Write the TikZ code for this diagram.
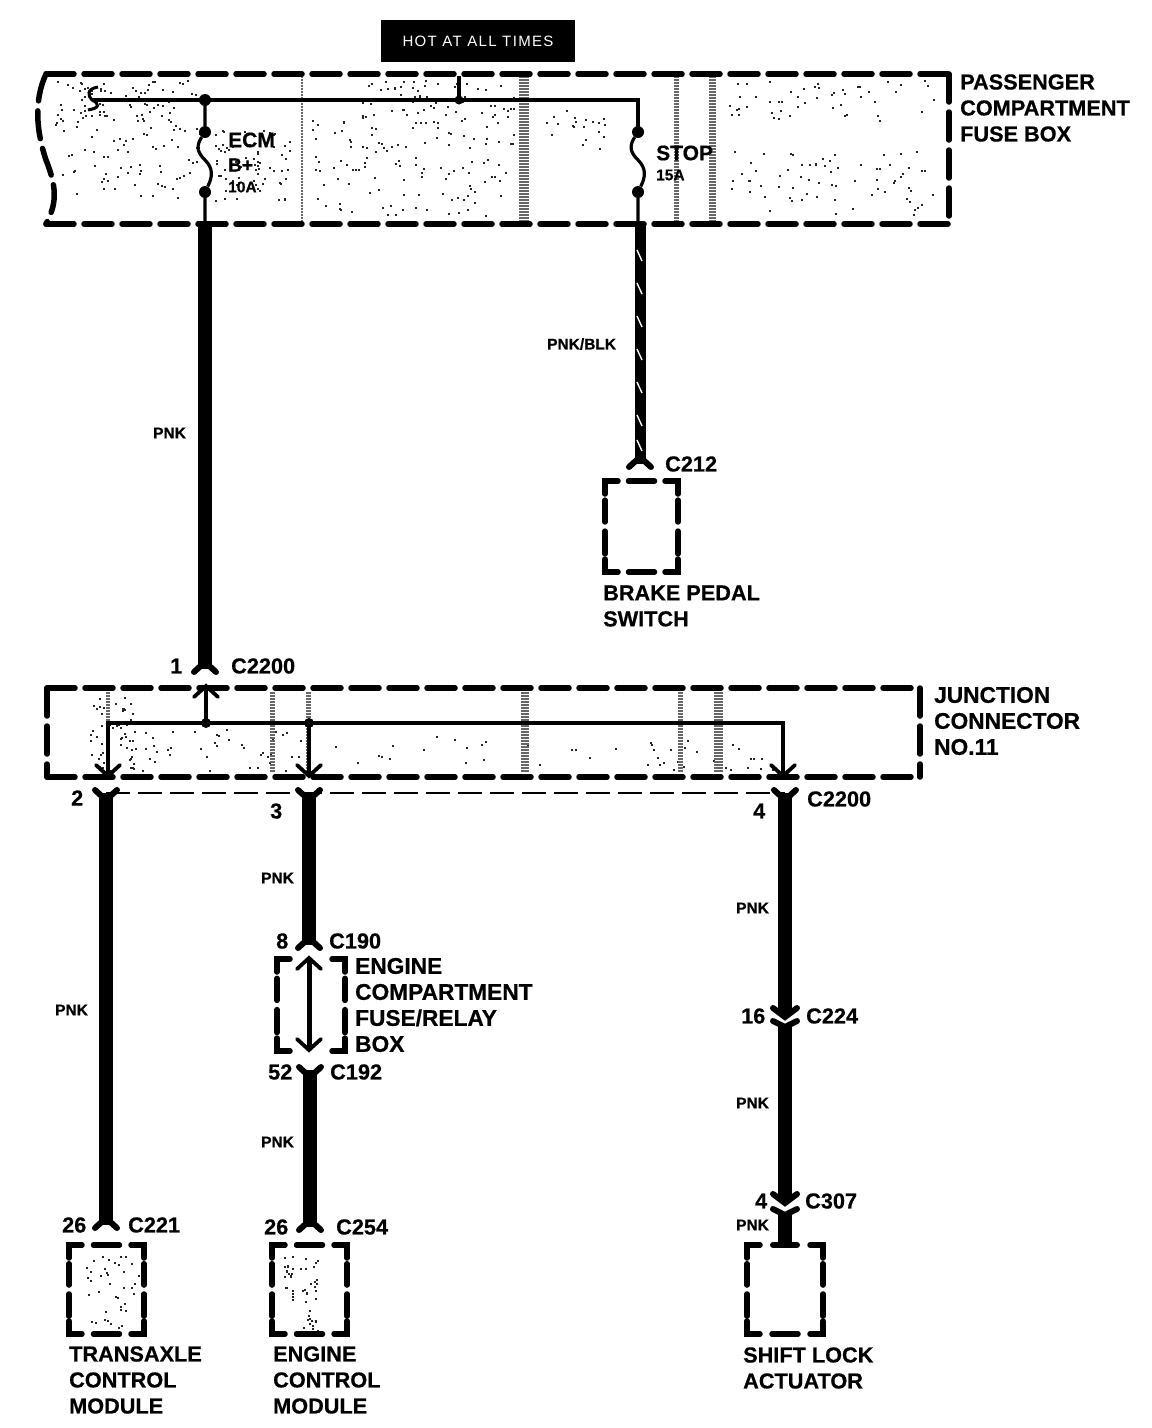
\documentclass[tikz,border=0pt]{standalone}
\usepackage{fontspec}
\setmainfont[BoldFeatures={FakeBold=0.6}]{Liberation Sans}
\usetikzlibrary{calc}
\newcommand{\forkdn}[1]{\begin{scope}[shift={(#1)}]\draw[forkline] (-11,3) -- (0,-7) -- (11,3);\end{scope}}
\newcommand{\forkup}[1]{\begin{scope}[shift={(#1)}]\draw[forkline] (-11,-3) -- (0,7) -- (11,-3);\end{scope}}
\newcommand{\headdn}[1]{\begin{scope}[shift={(#1)}]\draw[headline] (-12,-11) -- (0,0) -- (12,-11);\end{scope}}
\newcommand{\headup}[1]{\begin{scope}[shift={(#1)}]\draw[headline] (-12,11) -- (0,0) -- (12,11);\end{scope}}
\newcommand{\speck}[5]{\foreach \i in {1,...,#5}{\pgfmathsetmacro{\px}{#1+rnd*(#3-#1)}\pgfmathsetmacro{\py}{#2+rnd*(#4-#2)}\fill[black!85] (\px,\py) rectangle ++(2,2);}}
% small dashed box: corners, a middle dash on top and bottom, two dashes on each side
\newcommand{\dbox}[5][1]{\begin{scope}[smallbox]
  \pgfmathsetmacro{\xm}{(#2+#4)/2}\pgfmathsetmacro{\hh}{#5-#3}
  \draw (#2+13,#3) -- (#2,#3) -- (#2,#3+13);
  \draw (#4-13,#3) -- (#4,#3) -- (#4,#3+13);
  \draw (#2+13,#5) -- (#2,#5) -- (#2,#5-13);
  \draw (#4-13,#5) -- (#4,#5) -- (#4,#5-13);
  \ifnum#1=1
    \draw (\xm-13,#3) -- (\xm+13,#3);
    \draw (\xm-13,#5) -- (\xm+13,#5);
  \fi
  \foreach \xs in {#2,#4}{
    \draw (\xs,#3+0.21*\hh) -- (\xs,#3+0.45*\hh);
    \draw (\xs,#3+0.55*\hh) -- (\xs,#3+0.80*\hh);}
\end{scope}}
\tikzset{
  x=1pt,y=-1pt,
  boxline/.style={line width=5.5pt,dash pattern=on 28pt off 10pt,line cap=round},
  smallbox/.style={line width=5.5pt,line cap=round,line join=miter},
  wire/.style={line width=14pt},
  thin wire/.style={line width=3.2pt},
  forkline/.style={line width=6pt,line cap=round,line join=miter},
  headline/.style={line width=3.8pt,line cap=round,line join=miter},
  band/.style={black!60,dash pattern=on 1.5pt off 1.5pt},
  jdot/.style={circle,fill=black,inner sep=0pt,minimum size=12pt},
  lab/.style={font=\bfseries\fontsize{21.7}{26}\selectfont,anchor=west,align=left,inner sep=0pt,text=black},
  labwide/.style={lab,font=\bfseries\fontsize{22.7}{26}\selectfont},
  tiny/.style={font=\bfseries\fontsize{15.5}{16}\selectfont,anchor=west,inner sep=0pt},
}
\begin{document}
\begin{tikzpicture}
\useasboundingbox (0,0) rectangle (1152,1428);
\fill[white] (0,0) rectangle (1152,1428);
% halftone
\pgfmathsetseed{11}
\speck{55}{80}{200}{130}{90}
\speck{60}{130}{200}{200}{60}
\speck{215}{130}{290}{200}{70}
\speck{310}{120}{515}{215}{120}
\speck{360}{80}{515}{118}{70}
\speck{530}{110}{620}{150}{20}
\speck{725}{80}{935}{120}{50}
\speck{725}{150}{935}{215}{70}
\speck{90}{695}{135}{770}{60}
\speck{140}{728}{300}{770}{40}
\speck{640}{735}{780}{770}{25}
\speck{320}{735}{620}{770}{20}
\speck{85}{1252}{138}{1328}{40}
\speck{283}{1255}{292}{1300}{20}
\speck{300}{1250}{318}{1330}{30}
\foreach \xa/\wa/\ya/\yb in {302/2/76/222,524/10/76/222,676/5/76/222,712/7/76/222,
   272/5/692/772,308/5/692/772,525/8/692/772,680/5/692/772,718/9/692/772,
   108/4/692/772}
  {\draw[band,line width=\wa pt] (\xa,\ya) -- (\xa,\yb);}
% hot box
\node[fill=black,text=white,font=\fontsize{15}{16}\selectfont,minimum width=194pt,minimum height=42pt,inner sep=0pt] (hot) at (478,41) {\addfontfeature{LetterSpace=9}HOT AT ALL TIMES};
% fuse box outline
\coordinate (fbA) at (46,74);\coordinate (fbB) at (949,74);\coordinate (fbC) at (949,224);\coordinate (fbD) at (46,224);
\draw[boxline] (fbA) -- (fbB);
\draw[boxline] (fbB) -- (fbC);
\draw[boxline] (fbD) -- (fbC);
\draw[boxline] (fbA) .. controls (34,100) and (36,130) .. (46,160) .. controls (58,190) and (56,205) .. (fbD);
% bus
\coordinate (s0) at (92,100);\coordinate (t1) at (205,100);\coordinate (t2) at (459,100);\coordinate (t3) at (638,100);
\coordinate (t2up) at (459,76);
\draw[line width=3pt] (98,87) .. controls (86,89) and (88,96) .. (s0) .. controls (100,104) and (100,108) .. (88,110);
\draw[thin wire,line join=miter] (s0) -- (t3) -- (638,132);
\draw[thin wire] (t2) -- (t2up);
\node[jdot] (dbus1) at (t1) {};
\node[jdot,minimum size=9pt] (dbus2) at (t2) {};
% ECM fuse
\node[jdot] (e1) at (205,132) {};\node[jdot] (e2) at (205,192) {};
\draw[thin wire] (dbus1) -- (e1) .. controls (196,146) and (197,152) .. (205,160) .. controls (213,168) and (213,176) .. (e2) -- (205,224);
% STOP fuse
\node[jdot] (f1) at (638,132) {};\node[jdot] (f2) at (638,192) {};
\draw[thin wire] (f1) .. controls (629,146) and (630,152) .. (638,160) .. controls (646,168) and (646,176) .. (f2) -- (638,224);
% main wires
\coordinate (w1a) at (205,224);\coordinate (w1b) at (205,669);
\draw[wire] (w1a) -- (w1b);
\forkdn{w1b}
\coordinate (w2a) at (640,224);\coordinate (w2b) at (640,464);
\draw[line width=11pt] (w2a) -- (w2b);
\forkdn{w2b}
\foreach \yy in {250,283,316,349,382,415,440}{\draw[white,line width=1.4pt] (637,\yy) -- (642,\yy+11);}
% brake box
\dbox{605}{481}{678}{572}
% junction box
\draw[boxline] (47,688) -- (920,688);
\draw[boxline] (47,777) -- (920,777);
\draw[boxline] (47,688) -- (47,777);
\draw[boxline] (920,688) -- (920,777);
\coordinate (j0) at (108,723);\coordinate (j1) at (206,723);\coordinate (j2) at (309,723);\coordinate (j3) at (783,723);
\coordinate (up1) at (206,686);\coordinate (d0) at (108,776);\coordinate (d2) at (309,776);\coordinate (d3) at (783,776);
\draw[thin wire,line join=miter] (d0) -- (j0) -- (j3) -- (d3);
\draw[thin wire] (j1) -- (up1);
\draw[line width=4.4pt] (j2) -- (d2);
\node[jdot,minimum size=10pt] (dj1) at (j1) {};
\node[jdot,minimum size=10pt] (dj2) at (j2) {};
\headup{up1}\headdn{d0}\headdn{d2}\headdn{d3}
% dashed line
\coordinate (c2) at (106,793);\coordinate (c3) at (309,793);\coordinate (c4) at (785,793);
\draw[line width=2.6pt,dash pattern=on 24pt off 8pt] (c2) -- (c4);
\forkup{c2}\forkup{c3}\forkup{c4}
% lower wires
\coordinate (e8) at (309,945);\coordinate (c190t) at (309,958);\coordinate (c192b) at (309,1050);
\coordinate (c52) at (310,1070);\coordinate (c26b) at (310,1227);\coordinate (c21b) at (106,1225);
\draw[wire] (c2) -- (c21b);\forkdn{c21b}
\draw[wire] (c3) -- (e8);\forkdn{e8}
\draw[wire] (c52) -- (c26b);\forkup{c52}\forkdn{c26b}
% engine compartment box
\dbox[0]{277}{959}{345}{1051}
\draw[line width=5pt] (c190t) -- (c192b);
\headup{c190t}\headdn{c192b}
% right wire
\coordinate (r1) at (785,1014);\coordinate (r2) at (785,1026);\coordinate (r3) at (785,1200);\coordinate (r4) at (785,1214);\coordinate (r5) at (785,1245);
\draw[wire] (c4) -- (r1);
\draw[wire] (r2) -- (r3);
\draw[wire] (r4) -- (r5);
\draw[forkline] ($(r1)+(-12,-6)$) -- ($(r1)+(0,3)$) -- ($(r1)+(12,-6)$);
\draw[forkline] ($(r2)+(-12,-5)$) -- ($(r2)+(0,1)$) -- ($(r2)+(12,-5)$);
\draw[forkline] ($(r3)+(-12,-6)$) -- ($(r3)+(0,3)$) -- ($(r3)+(12,-6)$);
\draw[forkline] ($(r4)+(-12,-5)$) -- ($(r4)+(0,1)$) -- ($(r4)+(12,-5)$);
\draw[forkline] ($(r5)+(-12,0)$) -- ($(r5)+(12,0)$);
% bottom boxes
\dbox{69}{1245}{144}{1334}
\dbox{272}{1245}{347}{1334}
\dbox[0]{747}{1245}{823}{1334}
\draw[smallbox] (747,1334) ++(25,0) -- ++(26,0);
% labels
\node[lab] (lfb) at (960,108) {PASSENGER\\COMPARTMENT\\FUSE BOX};
\node[labwide] (ljc) at (934,721) {JUNCTION\\CONNECTOR\\NO.11};
\node[lab] (lbp) at (603,606) {BRAKE PEDAL\\SWITCH};
\node[lab,font=\bfseries\fontsize{21}{26}\selectfont] (lecm) at (228,140) {ECM};
\node[lab,font=\bfseries\fontsize{19}{26}\selectfont] (lbp2) at (228,165) {B+};
\node[tiny] (l10a) at (228,187) {10A};
\node[lab,font=\bfseries\fontsize{21}{26}\selectfont] (lstop) at (656,153) {STOP};
\node[tiny] (l15a) at (656,175) {15A};
\node[tiny] (p1) at (153,433) {PNK};
\node[tiny] (p2) at (547,344) {PNK/BLK};
\node[tiny] (p3) at (261,878) {PNK};
\node[tiny] (p4) at (736,908) {PNK};
\node[tiny] (p5) at (55,1010) {PNK};
\node[tiny] (p6) at (261,1142) {PNK};
\node[tiny] (p7) at (736,1103) {PNK};
\node[tiny] (p8) at (736,1225) {PNK};
\node[lab] (c212) at (665,464) {C212};
\node[lab] (n1) at (170,666) {1};
\node[lab] (c2200a) at (231,666) {C2200};
\node[lab] (n2) at (71,798) {2};
\node[lab] (n3) at (270,811) {3};
\node[lab] (n4) at (753,811) {4};
\node[lab] (c2200b) at (807,799) {C2200};
\node[lab] (n8) at (276,941) {8};
\node[lab] (c190) at (329,941) {C190};
\node[labwide] (lecb) at (355,1005) {ENGINE\\COMPARTMENT\\FUSE/RELAY\\BOX};
\node[lab] (n52) at (268,1072) {52};
\node[lab] (c192) at (330,1072) {C192};
\node[lab] (n16) at (741,1016) {16};
\node[lab] (c224) at (806,1016) {C224};
\node[lab] (n4b) at (755,1201) {4};
\node[lab] (c307) at (805,1201) {C307};
\node[lab] (n26a) at (62,1225) {26};
\node[lab] (c221) at (128,1225) {C221};
\node[lab] (n26b) at (264,1227) {26};
\node[lab] (c254) at (336,1227) {C254};
\node[lab] (ltcm) at (69,1380) {TRANSAXLE\\CONTROL\\MODULE};
\node[lab] (lecmod) at (273,1380) {ENGINE\\CONTROL\\MODULE};
\node[lab] (lsla) at (743,1368) {SHIFT LOCK\\ACTUATOR};
\end{tikzpicture}
\end{document}
